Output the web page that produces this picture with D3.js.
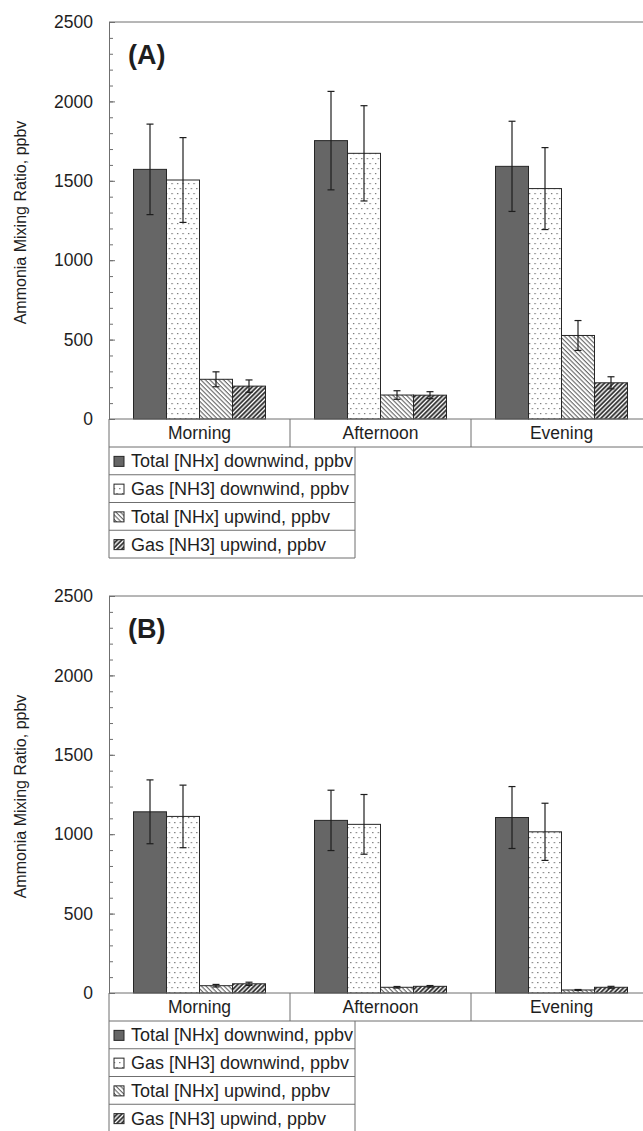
<html>
<head>
<meta charset="UTF-8">
<script src="https://d3js.org/d3.v7.min.js"></script>
<style>
  body { margin: 0; background: #fff; }
  text { font-family: Arial, "Liberation Sans", sans-serif; fill: #1e1e1e; }
</style>
</head>
<body>
<script>
// categories and series
const categories = ["Morning", "Afternoon", "Evening"];
const seriesNames = ["Total [NHx] downwind, ppbv", "Gas [NH3] downwind, ppbv",
                     "Total [NHx] upwind, ppbv", "Gas [NH3] upwind, ppbv"];
const yTicks = [0, 500, 1000, 1500, 2000, 2500];

// panel A values (mean) and error bar half-widths
const totalDownA = [1572, 1753, 1591];
const gasDownA   = [1505, 1673, 1451];
const totalUpA   = [250, 151, 526];
const gasUpA     = [207, 150, 228];
const totalDownErrA = [285, 310, 284];
const gasDownErrA   = [267, 300, 258];
const totalUpErrA   = [47, 27, 94];
const gasUpErrA     = [39, 22, 38];

// panel B values
const totalDownB = [1141, 1087, 1105];
const gasDownB   = [1112, 1062, 1015];
const totalUpB   = [46, 36, 19];
const gasUpB     = [58, 42, 36];
const totalDownErrB = [201, 190, 195];
const gasDownErrB   = [197, 188, 180];
const totalUpErrB   = [8, 5, 3];
const gasUpErrB     = [10, 5, 6];

const W = 643, H = 1131;
const left = 109, right = 652, plotH = 397;
const rowH = 28, legW = 246, legRowH = 27.75;

let svg = d3.select("body").append("svg").attr("width", W).attr("height", H);

// fill patterns
let defs = svg.append("defs");
let pDots = defs.append("pattern").attr("id", "dots").attr("patternUnits", "userSpaceOnUse")
    .attr("width", 5.5).attr("height", 10);
pDots.append("rect").attr("width", 5.5).attr("height", 10).attr("fill", "#fff");
pDots.append("rect").attr("x", 1).attr("y", 1).attr("width", 1.2).attr("height", 1.2).attr("fill", "#666");
pDots.append("rect").attr("x", 3.75).attr("y", 6).attr("width", 1.2).attr("height", 1.2).attr("fill", "#666");

let pLight = defs.append("pattern").attr("id", "lightdiag").attr("patternUnits", "userSpaceOnUse")
    .attr("width", 3.2).attr("height", 10).attr("patternTransform", "rotate(-45)");
pLight.append("rect").attr("width", 3.2).attr("height", 10).attr("fill", "#fff");
pLight.append("line").attr("x1", 1).attr("x2", 1).attr("y1", 0).attr("y2", 10)
    .attr("stroke", "#555").attr("stroke-width", 1);

let pDark = defs.append("pattern").attr("id", "darkdiag").attr("patternUnits", "userSpaceOnUse")
    .attr("width", 3.2).attr("height", 10).attr("patternTransform", "rotate(45)");
pDark.append("rect").attr("width", 3.2).attr("height", 10).attr("fill", "#fff");
pDark.append("line").attr("x1", 1.2).attr("x2", 1.2).attr("y1", 0).attr("y2", 10)
    .attr("stroke", "#1e1e1e").attr("stroke-width", 1.7);

const fills = ["#666666", "url(#dots)", "url(#lightdiag)", "url(#darkdiag)"];
const lineCol = "#6f6f6f";

function drawPanel(top, tag, vals, errs) {
    let g = svg.append("g").attr("transform", `translate(0,${top})`);

    let y = d3.scaleLinear().domain([0, 2500]).range([plotH, 0]);
    let x = d3.scaleBand().domain(categories).range([left, right]);
    let xs = d3.scaleBand().domain(d3.range(seriesNames.length))
        .range([24.5, x.bandwidth() - 24.5]);

    // frame top
    g.append("line").attr("x1", left).attr("x2", right).attr("y1", 0).attr("y2", 0)
        .attr("stroke", lineCol);

    // minor ticks
    g.append("g").attr("transform", `translate(${left},0)`)
        .call(d3.axisLeft(y).tickValues(d3.range(0, 2501, 100)).tickSize(-4).tickFormat(""))
        .call(a => a.select(".domain").remove())
        .selectAll("line").attr("stroke", lineCol);

    // main axis
    let ax = g.append("g").attr("transform", `translate(${left},0)`)
        .call(d3.axisLeft(y).tickValues(yTicks).tickFormat(d3.format("d"))
            .tickSizeInner(-6).tickSizeOuter(0).tickPadding(16));
    ax.selectAll("line").attr("stroke", lineCol);
    ax.select(".domain").attr("stroke", lineCol);
    ax.selectAll("text").style("font-size", "17.5px").attr("fill", "#1e1e1e")
        .style("font-family", "Arial, 'Liberation Sans', sans-serif");

    // y title
    g.append("text")
        .attr("transform", `translate(26,${plotH / 2 + 2}) rotate(-90)`)
        .attr("text-anchor", "middle")
        .style("font-size", "16px")
        .text("Ammonia Mixing Ratio, ppbv");

    // panel tag
    g.append("text").attr("x", 128).attr("y", 42)
        .style("font-size", "27px").style("font-weight", "bold")
        .text(tag);

    // bars
    vals.forEach((series, i) => {
        g.selectAll(null).data(series).join("rect")
            .attr("x", (d, j) => x(categories[j]) + xs(i))
            .attr("y", d => y(d))
            .attr("width", xs.bandwidth())
            .attr("height", d => plotH - y(d))
            .attr("fill", fills[i])
            .attr("stroke", "#262626")
            .attr("stroke-width", 1);
    });

    // error bars
    vals.forEach((series, i) => {
        series.forEach((v, j) => {
            let cx = x(categories[j]) + xs(i) + xs.bandwidth() / 2;
            let e = errs[i][j];
            let eb = g.append("g").attr("stroke", "#1e1e1e").attr("stroke-width", 1.2);
            eb.append("line").attr("x1", cx).attr("x2", cx).attr("y1", y(v + e)).attr("y2", y(v - e));
            eb.append("line").attr("x1", cx - 3.5).attr("x2", cx + 3.5).attr("y1", y(v + e)).attr("y2", y(v + e));
            eb.append("line").attr("x1", cx - 3.5).attr("x2", cx + 3.5).attr("y1", y(v - e)).attr("y2", y(v - e));
        });
    });

    // category table row
    let tbl = g.append("g").attr("stroke", lineCol).attr("stroke-width", 1);
    tbl.append("line").attr("x1", left).attr("x2", right).attr("y1", plotH).attr("y2", plotH);
    tbl.append("line").attr("x1", left).attr("x2", right).attr("y1", plotH + rowH).attr("y2", plotH + rowH);
    categories.forEach(c => {
        tbl.append("line").attr("x1", x(c) + x.bandwidth()).attr("x2", x(c) + x.bandwidth())
            .attr("y1", plotH).attr("y2", plotH + rowH);
    });
    tbl.append("line").attr("x1", left).attr("x2", left)
        .attr("y1", plotH).attr("y2", plotH + rowH + legRowH * 4);
    g.selectAll(null).data(categories).join("text")
        .attr("x", d => x(d) + x.bandwidth() / 2)
        .attr("y", plotH + rowH / 2 + 6)
        .attr("text-anchor", "middle")
        .style("font-size", "17.5px")
        .text(d => d);

    // legend table
    let legTop = plotH + rowH;
    tbl.append("line").attr("x1", left + legW).attr("x2", left + legW)
        .attr("y1", legTop).attr("y2", legTop + legRowH * 4);
    seriesNames.forEach((s, i) => {
        let ry = legTop + legRowH * i;
        tbl.append("line").attr("x1", left).attr("x2", left + legW)
            .attr("y1", ry + legRowH).attr("y2", ry + legRowH);
        g.append("rect").attr("x", 114).attr("y", ry + legRowH / 2 - 4.5)
            .attr("width", 10).attr("height", 10)
            .attr("fill", fills[i]).attr("stroke", "#262626");
        g.append("text").attr("x", 131).attr("y", ry + legRowH / 2 + 6.5)
            .style("font-size", "18px")
            .text(s);
    });
}

drawPanel(22, "(A)", [totalDownA, gasDownA, totalUpA, gasUpA],
          [totalDownErrA, gasDownErrA, totalUpErrA, gasUpErrA]);
drawPanel(596, "(B)", [totalDownB, gasDownB, totalUpB, gasUpB],
          [totalDownErrB, gasDownErrB, totalUpErrB, gasUpErrB]);
</script>
</body>
</html>
